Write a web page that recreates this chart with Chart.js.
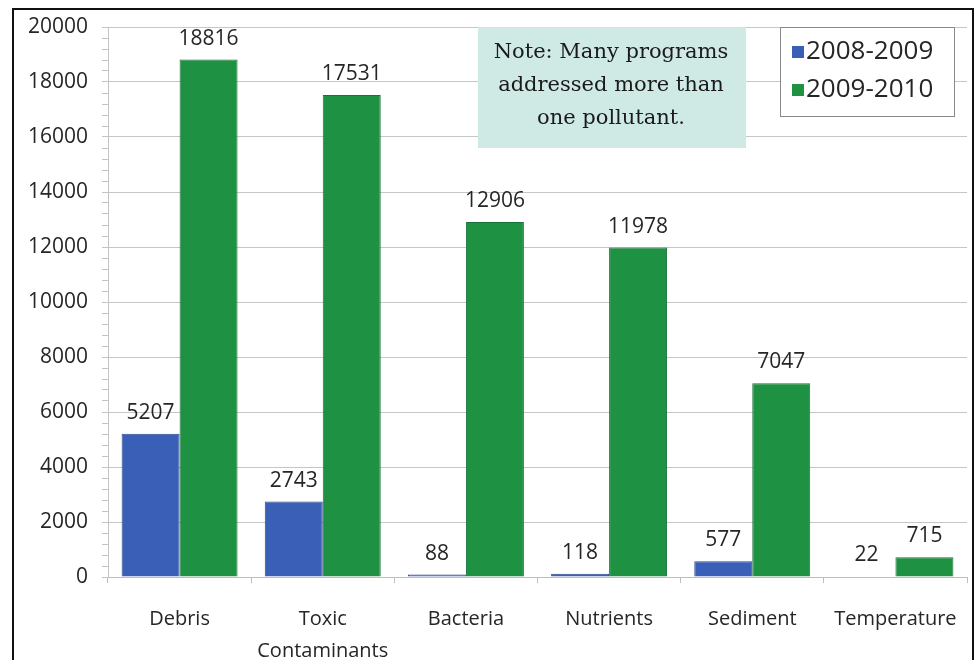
<!DOCTYPE html>
<html lang="en">
<head>
    <meta charset="utf-8">
    <title>Pollutants addressed</title>
    <script src="https://cdn.jsdelivr.net/npm/chart.js"></script>
    <style>
        html, body {
            margin: 0;
            padding: 0;
            background: #fff;
            overflow: hidden;
        }
        .frame {
            position: absolute;
            left: 12px;
            top: 8px;
            width: 958px;
            height: 700px;
            border: 2px solid #111;
        }
        #chart {
            position: absolute;
            left: 0;
            top: 0;
        }
    </style>
</head>
<body>
    <div class="frame"></div>
    <canvas id="chart" width="977" height="660"></canvas>

    <script>
        const categories = ['Debris', ['Toxic', 'Contaminants'], 'Bacteria', 'Nutrients', 'Sediment', 'Temperature'];
        const seriesNames = ['2008-2009', '2009-2010'];
        const values0809 = [5207, 2743, 88, 118, 577, 22];
        const values0910 = [18816, 17531, 12906, 11978, 7047, 715];
        const noteLines = ['Note: Many programs', 'addressed more than', 'one pollutant.'];

        const blue = '#3a5fb6';
        const green = '#1f9142';
        const gridGray = '#c6c6c6';
        const textColor = '#262626';
        const uiFont = '"Open Sans", sans-serif';

        // value labels above each bar
        const valueLabels = {
            id: 'valueLabels',
            afterDatasetsDraw(chart) {
                const ctx = chart.ctx;
                ctx.save();
                ctx.font = '21px ' + uiFont;
                ctx.fillStyle = textColor;
                ctx.textAlign = 'center';
                ctx.textBaseline = 'middle';
                chart.data.datasets.forEach((ds, i) => {
                    chart.getDatasetMeta(i).data.forEach((bar, j) => {
                        ctx.fillText(String(ds.data[j]), bar.x, bar.y - 21);
                    });
                });
                ctx.restore();
            }
        };

        // note box and legend box in the upper right
        const boxes = {
            id: 'boxes',
            afterDraw(chart) {
                const ctx = chart.ctx;
                ctx.save();

                // note
                ctx.fillStyle = '#cfe9e5';
                ctx.fillRect(478, 27, 268, 121);
                ctx.fillStyle = '#1a1a1a';
                ctx.font = '21px "DejaVu Serif", serif';
                ctx.textAlign = 'center';
                ctx.textBaseline = 'middle';
                noteLines.forEach((line, i) => {
                    ctx.fillText(line, 611, 53 + i * 33);
                });

                // legend
                ctx.fillStyle = '#fff';
                ctx.fillRect(780, 27, 174, 89);
                ctx.strokeStyle = '#8a8a8a';
                ctx.lineWidth = 1;
                ctx.strokeRect(780.5, 27.5, 174, 89);
                ctx.font = '26px ' + uiFont;
                ctx.textAlign = 'left';
                const colors = [blue, green];
                seriesNames.forEach((name, i) => {
                    const y = 52 + i * 38;
                    ctx.fillStyle = colors[i];
                    ctx.fillRect(792, y - 6, 12, 12);
                    ctx.fillStyle = textColor;
                    ctx.fillText(name, 806, y);
                });

                ctx.restore();
            }
        };

        new Chart(document.getElementById('chart'), {
            type: 'bar',
            data: {
                labels: categories,
                datasets: [
                    {
                        label: seriesNames[0],
                        data: values0809,
                        backgroundColor: blue,
                        borderColor: '#2b4a92',
                        borderWidth: 1
                    },
                    {
                        label: seriesNames[1],
                        data: values0910,
                        backgroundColor: green,
                        borderColor: '#17733a',
                        borderWidth: 1
                    }
                ]
            },
            options: {
                responsive: false,
                animation: false,
                layout: {
                    padding: { left: 0, top: 27, right: 5, bottom: 0 }
                },
                plugins: {
                    legend: { display: false },
                    tooltip: { enabled: false }
                },
                datasets: {
                    bar: {
                        categoryPercentage: 0.81,
                        barPercentage: 1
                    }
                },
                scales: {
                    x: {
                        grid: {
                            drawOnChartArea: false,
                            drawTicks: true,
                            tickLength: 6,
                            tickColor: '#bdbdbd'
                        },
                        border: { color: '#bdbdbd' },
                        ticks: {
                            color: textColor,
                            font: { family: uiFont, size: 20, lineHeight: 1.6 },
                            padding: 20,
                            maxRotation: 0
                        },
                        afterFit(scale) {
                            scale.height = 83;
                        }
                    },
                    y: {
                        min: 0,
                        max: 20000,
                        grid: {
                            color: c => (c.tick && c.tick.value % 2000 === 0) ? gridGray : 'rgba(0,0,0,0)',
                            tickColor: '#c4c4c4',
                            tickLength: 6
                        },
                        border: { color: '#c4c4c4' },
                        ticks: {
                            stepSize: 400,
                            autoSkip: false,
                            maxTicksLimit: 100,
                            padding: 14,
                            color: textColor,
                            font: { family: uiFont, size: 21 },
                            callback: v => (v % 2000 === 0 ? String(v) : '')
                        },
                        afterFit(scale) {
                            scale.width = 108;
                        }
                    }
                }
            },
            plugins: [valueLabels, boxes]
        });
    </script>
</body>
</html>
